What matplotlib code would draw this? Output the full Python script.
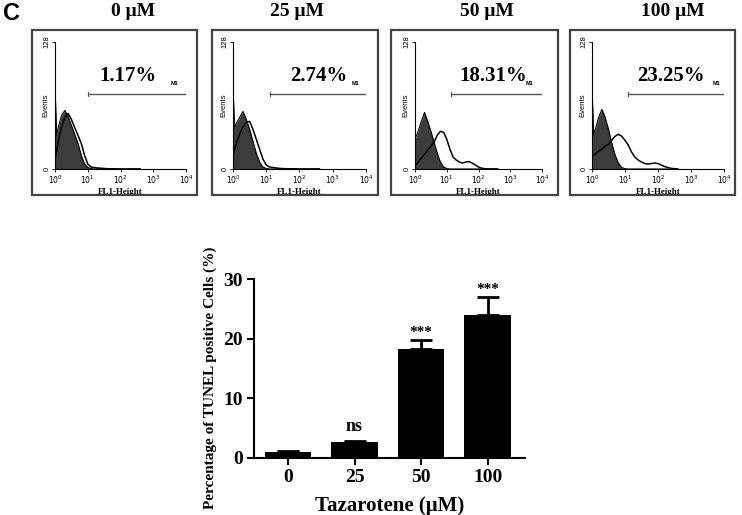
import numpy as np
import matplotlib
matplotlib.use("Agg")
import matplotlib.pyplot as plt
from matplotlib.patches import Rectangle

# ---- bar chart data ----
doses = ['0', '25', '50', '100']
tunel_mean = [1.0, 2.7, 18.3, 24.0]
tunel_err = [0.2, 0.1, 1.5, 3.0]
signif = ['', 'ns', '***', '***']

# ---- flow cytometry histograms (log10 of FL1-Height vs events) ----
fl1_log = [0.0, 0.05, 0.1, 0.2, 0.3, 0.4, 0.5, 0.6, 0.7, 0.8, 0.9, 1.0, 1.1, 1.2,
           1.3, 1.4, 1.5, 1.6, 1.7, 1.8, 1.9, 2.0, 2.1, 2.2, 2.3, 2.4, 2.5, 2.6]
panel_titles = ['0 μM', '25 μM', '50 μM', '100 μM']
panel_pct = ['1.17%', '2.74%', '18.31%', '23.25%']
control_counts = [
    [84, 34, 42, 54, 59, 53, 44, 35, 26, 14, 5, 1.5, 0.5, 0, 0, 0, 0, 0, 0, 0, 0, 0, 0, 0, 0, 0, 0, 0],
    [82, 42, 46, 52, 58, 50, 40, 28, 16, 7, 2, 0.5, 0, 0, 0, 0, 0, 0, 0, 0, 0, 0, 0, 0, 0, 0, 0, 0],
    [30, 34, 38, 48, 57, 48, 38, 27, 16, 7, 2, 0.5, 0, 0, 0, 0, 0, 0, 0, 0, 0, 0, 0, 0, 0, 0, 0, 0],
    [83, 35, 40, 52, 60, 52, 40, 26, 14, 6, 1.5, 0.3, 0, 0, 0, 0, 0, 0, 0, 0, 0, 0, 0, 0, 0, 0, 0, 0],
]
treated_counts = [
    [10, 18, 28, 42, 52, 56, 50, 42, 34, 26, 14, 5, 2, 1.5, 1, 0.8, 0.5, 0.3, 0.2, 0.2, 0.1, 0, 0, 0, 0, 0, 0, 0],
    [15, 20, 26, 35, 43, 47, 48, 40, 30, 20, 10, 4, 2, 1.5, 1, 0.6, 0.4, 0.3, 0.2, 0.2, 0.1, 0, 0, 0, 0, 0, 0, 0],
    [3, 5, 7, 11, 15, 19, 23, 27, 34, 38, 37, 30, 20, 12, 9, 7, 6, 7, 7.5, 6, 4, 2, 0.8, 0.3, 0, 0, 0, 0],
    [12, 14, 15, 18, 20, 23, 25, 29, 33, 35, 33, 29, 24, 17, 12, 9, 7, 5.5, 5, 5.5, 6, 5.5, 4, 2.5, 1.5, 0.6, 0.3, 0],
]
gate_start = [1.0, 1.12, 1.12, 1.1]
gate_level = 76

# panel boxes and inner axes in pixels (left, right)
box_x = [(32, 197), (212, 378), (391, 558), (570, 735)]
inner_x = [(55, 186), (233, 366), (415, 542), (592, 724)]
title_x = [133, 297, 487, 673]
pct_x = [0.34, 0.43, 0.35, 0.34]
m1_x = [0.91, 0.92, 0.905, 0.94]

W, H = 742, 515
plt.rcParams['font.family'] = ['Liberation Serif', 'DejaVu Serif']
fig = plt.figure(figsize=(W / 100, H / 100), dpi=100)

fig.text(3 / W, 1 - 13 / H, 'C', fontsize=17, fontweight='bold',
         family='Liberation Sans', va='center', ha='left')

x_vals = 10 ** np.array(fl1_log)
for i in range(4):
    bx0, bx1 = box_x[i]
    fig.patches.append(Rectangle((bx0 / W, 1 - 195 / H), (bx1 - bx0) / W, 165 / H,
                                 transform=fig.transFigure, fill=False,
                                 edgecolor='#444444', linewidth=1.6))
    fig.text(title_x[i] / W, 1 - 12 / H, panel_titles[i], fontsize=14,
             fontweight='bold', ha='center', va='center')

    ix0, ix1 = inner_x[i]
    ax = fig.add_axes([ix0 / W, 1 - 169 / H, (ix1 - ix0) / W, 127 / H])
    ax.fill_between(x_vals, control_counts[i], color='#3c3c3c', linewidth=0)
    ax.plot(x_vals, control_counts[i], color='black', linewidth=0.8)
    ax.plot(x_vals, treated_counts[i], color='black', linewidth=1.1)
    ax.set_xscale('log')
    ax.set_xlim(1, 1e4)
    ax.set_ylim(0, 128)
    ax.set_yticks([0, 128])
    ax.set_yticklabels(['0', '128'], rotation=90, va='center', fontsize=5.5,
                       family='Liberation Sans')
    ax.set_xticks([1, 10, 100, 1000, 10000])
    ax.set_xticklabels(['$10^0$', '$10^1$', '$10^2$', '$10^3$', '$10^4$'], fontsize=5.5)
    ax.tick_params(axis='both', length=2, width=0.6, pad=1)
    ax.tick_params(axis='x', which='minor', length=1.2, width=0.4)
    for s in ['top', 'right']:
        ax.spines[s].set_visible(False)
    ax.spines['left'].set_linewidth(0.8)
    ax.spines['bottom'].set_linewidth(0.8)
    ax.set_ylabel('Events', fontsize=5.5, family='Liberation Sans')
    ax.yaxis.set_label_coords(-0.045, 0.5)
    ax.set_xlabel('FL1-Height', fontsize=6.5, fontweight='bold', labelpad=1.5)
    ax.patch.set_alpha(0)

    ax.plot([10 ** gate_start[i], 1e4], [gate_level, gate_level], color='#555555',
            linewidth=1.0)
    ax.plot([10 ** gate_start[i]] * 2, [gate_level - 2, gate_level + 2],
            color='#555555', linewidth=0.8)
    ax.plot([1e4, 1e4], [gate_level - 2, gate_level + 2], color='#555555', linewidth=0.8)
    ax.text(pct_x[i], 0.655, panel_pct[i], transform=ax.transAxes, fontsize=15,
            fontweight='bold', ha='left', va='bottom')
    ax.text(m1_x[i], 0.655, 'M1', transform=ax.transAxes, fontsize=4,
            fontweight='bold', family='Liberation Sans', ha='center', va='bottom')

# ---- TUNEL bar chart ----
bax = fig.add_axes([254 / W, 1 - 458 / H, 271 / W, 179 / H])
pos = np.arange(len(doses))
bax.bar(pos, tunel_mean, width=0.7, color='black')
bax.errorbar(pos, tunel_mean, yerr=[np.zeros(4), tunel_err], fmt='none',
             ecolor='black', elinewidth=2, capsize=8, capthick=2)
for p, m, e, s in zip(pos, tunel_mean, tunel_err, signif):
    if s == 'ns':
        bax.text(p, m + e + 1.0, s, ha='center', va='bottom', fontsize=13,
                 fontweight='bold')
    elif s:
        bax.text(p, m + e + 0.2, s, ha='center', va='bottom', fontsize=11,
                 fontweight='bold')
bax.set_xlim(-0.51, 3.56)
bax.set_ylim(0, 30)
bax.set_yticks([0, 10, 20, 30])
bax.set_xticks(pos)
bax.set_xticklabels(doses)
for lab in bax.get_xticklabels() + bax.get_yticklabels():
    lab.set_fontweight('bold')
    lab.set_fontsize(14)
bax.tick_params(axis='both', length=5, width=1.5, pad=3)
for s in ['top', 'right']:
    bax.spines[s].set_visible(False)
bax.spines['left'].set_linewidth(1.5)
bax.spines['bottom'].set_linewidth(1.5)
bax.set_xlabel('Tazarotene (μM)', fontsize=15, fontweight='bold', labelpad=7)
bax.set_ylabel('Percentage of TUNEL positive Cells (%)', fontsize=11,
               fontweight='bold')
bax.yaxis.set_label_coords(-0.135, 0.45)

fig.savefig('out.png', dpi=100)
